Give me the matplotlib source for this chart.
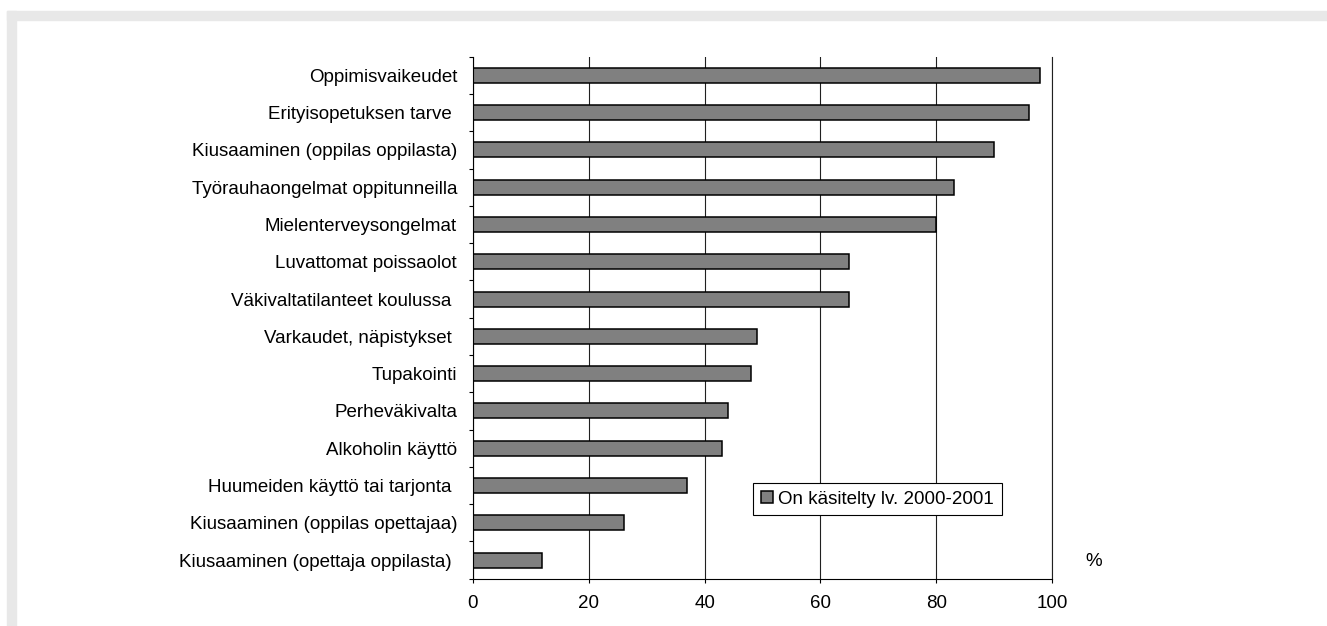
"""Horizontal bar chart: topics handled in school during 2000-2001."""
import matplotlib

matplotlib.use("Agg")

import matplotlib.pyplot as plt
from matplotlib.patches import Rectangle

FONT_SIZE = 13.5
plt.rcParams["font.family"] = ["Liberation Sans", "DejaVu Sans"]
plt.rcParams["font.size"] = FONT_SIZE

categories = [
    "Oppimisvaikeudet",
    "Erityisopetuksen tarve ",
    "Kiusaaminen (oppilas oppilasta)",
    "Työrauhaongelmat oppitunneilla",
    "Mielenterveysongelmat",
    "Luvattomat poissaolot",
    "Väkivaltatilanteet koulussa ",
    "Varkaudet, näpistykset ",
    "Tupakointi",
    "Perheväkivalta",
    "Alkoholin käyttö",
    "Huumeiden käyttö tai tarjonta ",
    "Kiusaaminen (oppilas opettajaa)",
    "Kiusaaminen (opettaja oppilasta) ",
]
values = [98, 96, 90, 83, 80, 65, 65, 49, 48, 44, 43, 37, 26, 12]
series_label = "On käsitelty lv. 2000-2001"
x_ticks = [0, 20, 40, 60, 80, 100]

W, H = 1327, 626
fig = plt.figure(figsize=(W / 100, H / 100), dpi=100)

# light gray frame along the top and left edge
frame_color = "#e8e8e8"
fig.patches.append(Rectangle((7 / W, 1 - 20 / H), 1 - 7 / W, 9 / H,
                             transform=fig.transFigure, color=frame_color, zorder=0))
fig.patches.append(Rectangle((7 / W, 0), 9 / W, 1 - 11 / H,
                             transform=fig.transFigure, color=frame_color, zorder=0))

ax_left, ax_right, ax_top, ax_bottom = 473, 1052, 56.7, 578.7
ax = fig.add_axes([ax_left / W, 1 - ax_bottom / H,
                   (ax_right - ax_left) / W, (ax_bottom - ax_top) / H])

positions = list(range(len(categories)))
ax.barh(positions, values, height=0.4, color="#808080", edgecolor="black",
        linewidth=1.1, label=series_label, zorder=3)

ax.set_xlim(0, 100)
ax.set_ylim(len(categories) - 0.5, -0.5)
ax.set_xticks(x_ticks)
ax.set_yticks(positions)
ax.set_yticklabels(categories)
ax.set_yticks([p - 0.5 for p in positions] + [len(categories) - 0.5], minor=True)

ax.tick_params(axis="y", which="major", length=0, pad=11.5, labelsize=FONT_SIZE)
ax.tick_params(axis="y", which="minor", length=3, width=0.8, direction="out")
ax.tick_params(axis="x", which="major", length=3, width=0.8, direction="out",
               pad=9.0, labelsize=FONT_SIZE)

grid_color = "#202020"
ax.grid(axis="x", color=grid_color, linewidth=0.8, zorder=1)
ax.set_axisbelow(True)
ax.spines["top"].set_visible(False)
ax.spines["right"].set_color(grid_color)
for side in ("left", "bottom", "right"):
    ax.spines[side].set_linewidth(0.8)
    ax.spines[side].set_zorder(4)

leg = ax.legend(loc="lower left", bbox_to_anchor=(0.4836, 0.122), borderaxespad=0,
                fancybox=False, framealpha=1, edgecolor="black", fontsize=FONT_SIZE,
                handlelength=0.65, handleheight=0.65, handletextpad=0.3,
                borderpad=0.4)
leg.get_frame().set_linewidth(0.8)

fig.text(1094 / W, 1 - 562 / H, "%", ha="center", va="center", fontsize=FONT_SIZE)

fig.savefig("out.png", dpi=100)
